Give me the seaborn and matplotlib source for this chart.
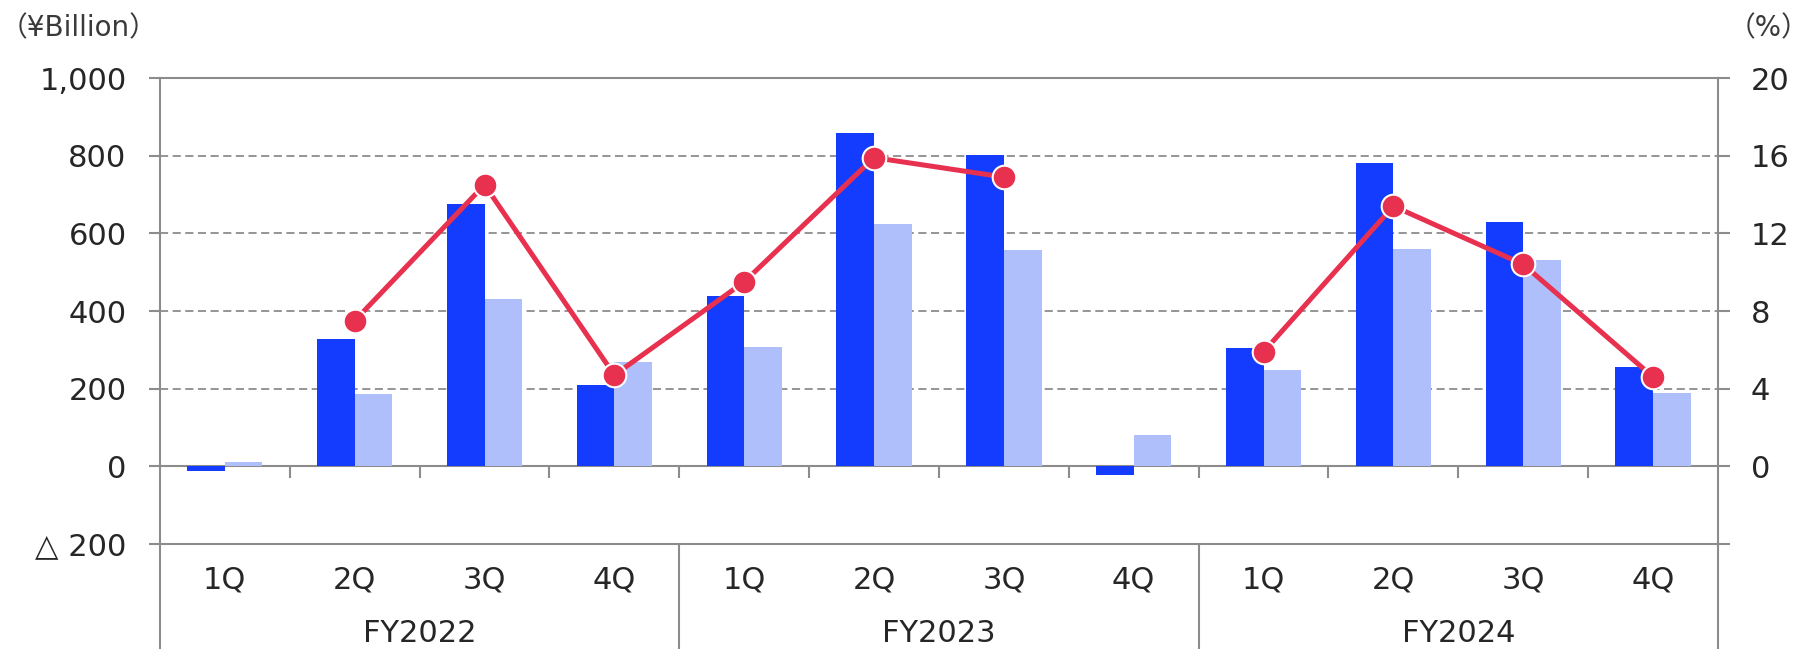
import numpy as np
import pandas as pd
import matplotlib
matplotlib.use('Agg')
import matplotlib.pyplot as plt
import seaborn as sns

# データ (¥Billion / %)
fiscal_years = ['FY2022', 'FY2023', 'FY2024']
quarters = ['1Q', '2Q', '3Q', '4Q']
series_names = ['Operating profit', 'Net profit']
operating_profit = [-12, 327, 675, 210, 438, 859, 803, -22, 305, 780, 628, 255]
net_profit = [11, 186, 431, 269, 307, 625, 558, 81, 247, 560, 532, 190]
margin_pct = [np.nan, 7.5, 14.5, 4.7, 9.5, 15.9, 14.9, np.nan, 5.9, 13.4, 10.4, 4.6]

left_ticks = [-200, 0, 200, 400, 600, 800, 1000]
left_labels = ['△ 200', '0', '200', '400', '600', '800', '1,000']
right_ticks = [-4, 0, 4, 8, 12, 16, 20]
right_labels = ['', '0', '4', '8', '12', '16', '20']

periods = [f'{fy} {q}' for fy in fiscal_years for q in quarters]
df = pd.DataFrame({
    'period': periods * 2,
    'value': operating_profit + net_profit,
    'series': [series_names[0]] * 12 + [series_names[1]] * 12,
})

sns.set_style('white')
plt.rcParams['font.family'] = ['DejaVu Sans', 'Noto Sans CJK JP']

dark_blue = '#133cff'
light_blue = '#afbffc'
red = '#e8304f'
grey = '#8c8c8c'

fig = plt.figure(figsize=(18.09, 6.49), dpi=100)
ax = fig.add_axes([0.0884, 0.1618, 0.9497 - 0.0884, 0.8798 - 0.1618])

sns.barplot(data=df, x='period', y='value', hue='series', order=periods,
            hue_order=series_names, palette=[dark_blue, light_blue],
            width=0.58, gap=0, saturation=1, linewidth=0, legend=False, ax=ax)
ax.set_xlim(-0.5, 11.5)
ax.set_ylim(-200, 1000)
ax.set_xlabel('')
ax.set_ylabel('')

# グリッド線
ax.set_axisbelow(True)
for y in [200, 400, 600, 800]:
    ax.axhline(y, color=grey, lw=1.3, ls=(0, (4.5, 2.5)), zorder=0)
ax.axhline(0, color=grey, lw=1.5, zorder=0.5)

for s in ['top', 'bottom', 'left', 'right']:
    ax.spines[s].set_color(grey)
    ax.spines[s].set_linewidth(1.5)

ax.set_yticks(left_ticks)
ax.set_yticklabels(left_labels)
ax.tick_params(axis='y', direction='out', length=8, width=1.5, color=grey,
               labelsize=22, pad=16)

# 横軸の区切り線
boundaries = np.arange(0.5, 11.5, 1)
ax.set_xticks(boundaries)
ax.set_xticklabels([''] * len(boundaries))
ax.tick_params(axis='x', direction='out', length=39, width=1.5, color=grey)
ax.vlines(boundaries, -30, 0, color=grey, lw=1.5, zorder=0.5)
xt = ax.get_xaxis_transform()
for x in [-0.5, 3.5, 7.5, 11.5]:
    ax.plot([x, x], [0, -0.23], transform=xt, color=grey, lw=1.5, clip_on=False)

for i, p in enumerate(periods):
    ax.text(i, -0.077, quarters[i % 4], transform=xt, ha='center', va='center',
            fontsize=22)
for j, fy in enumerate(fiscal_years):
    ax.text(j * 4 + 1.5, -0.192, fy, transform=xt, ha='center', va='center',
            fontsize=22)

# 右軸：利益率
ax2 = ax.twinx()
ax2.plot(range(12), margin_pct, color=red, lw=3.6, marker='o', ms=17,
         mfc=red, mec='white', mew=1.5, zorder=5)
ax2.set_ylim(-4, 20)
ax2.set_yticks(right_ticks)
ax2.set_yticklabels(right_labels)
ax2.tick_params(axis='y', direction='out', length=8.5, width=1.5, color=grey,
                labelsize=22, pad=15)
for s in ['top', 'bottom', 'left', 'right']:
    ax2.spines[s].set_visible(False)

fig.text(0.0, 0.957, '（¥Billion）', fontsize=20, color='#3a3a3a',
         ha='left', va='center')
fig.text(1.0, 0.957, '（%）', fontsize=20, color='#3a3a3a',
         ha='right', va='center')

fig.savefig('out.png', dpi=100)
